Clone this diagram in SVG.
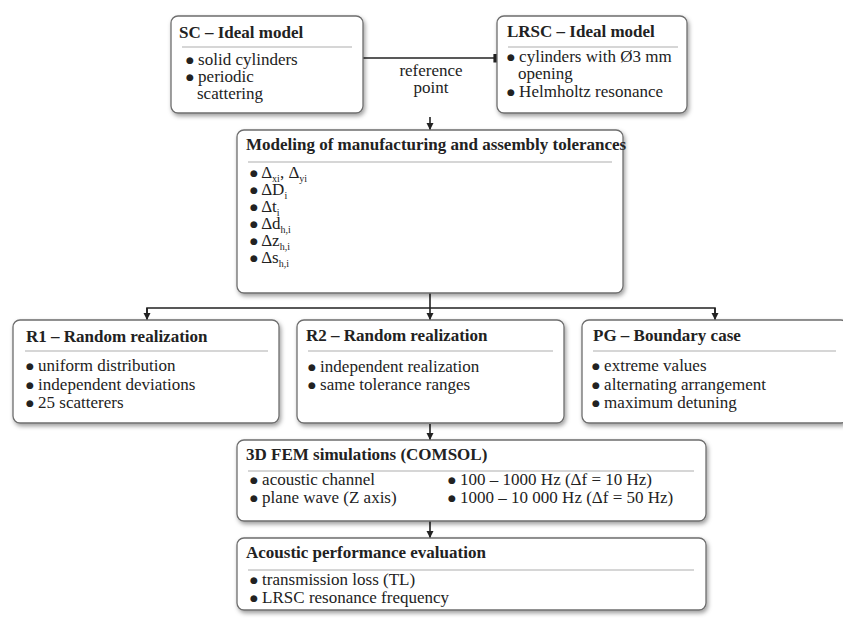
<svg xmlns="http://www.w3.org/2000/svg" width="843" height="620" viewBox="0 0 843 620">
<defs>
<filter id="sh" x="-5%" y="-5%" width="115%" height="125%">
<feDropShadow dx="1.5" dy="2.5" stdDeviation="2" flood-color="#000" flood-opacity="0.38"/>
</filter>
<marker id="ah" viewBox="0 0 10 10" refX="10" refY="5" markerWidth="7" markerHeight="8" markerUnits="userSpaceOnUse" orient="auto">
<path d="M0,0 L10,5 L0,10 z" fill="#222"/>
</marker>
<marker id="bar" viewBox="0 0 4 10" refX="4" refY="5" markerWidth="4" markerHeight="9" markerUnits="userSpaceOnUse" orient="auto">
<rect x="0" y="0" width="4" height="10" fill="#222"/>
</marker>
</defs>
<style>
.box{fill:#fff;stroke:#6e6e6e;stroke-width:1.3;filter:url(#sh)}
.sep{stroke:#c8c8c8;stroke-width:1.5}
text{font-family:"Liberation Serif","Times New Roman",serif;font-size:17px;fill:#222}
.t{font-weight:bold}
.sub{font-size:10px}
.b{font-family:"DejaVu Sans",sans-serif;font-size:9px}
.c{fill:none;stroke:#222;stroke-width:1.6}
</style>
<rect width="843" height="620" fill="#fff"/>

<g id="connectors">
<line class="c" x1="363" y1="58" x2="497" y2="58" marker-end="url(#bar)"/>
<text x="431" y="76" text-anchor="middle">reference</text>
<text x="431" y="93" text-anchor="middle">point</text>
<line class="c" x1="430" y1="117" x2="430" y2="130" marker-end="url(#ah)"/>
<line class="c" x1="430" y1="293" x2="430" y2="320" marker-end="url(#ah)"/>
<polyline class="c" points="147,314 147,308 715,308 715,314"/>
<line class="c" x1="147" y1="308" x2="147" y2="320" marker-end="url(#ah)"/>
<line class="c" x1="715" y1="308" x2="715" y2="320" marker-end="url(#ah)"/>
<line class="c" x1="430" y1="424" x2="430" y2="440" marker-end="url(#ah)"/>
<line class="c" x1="430" y1="521" x2="430" y2="538" marker-end="url(#ah)"/>
</g>

<g id="sc">
<rect class="box" x="171" y="16" width="192" height="97" rx="7"/>
<text class="t" x="179" y="38">SC – Ideal model</text>
<line class="sep" x1="182" y1="47" x2="352" y2="47"/>
<text x="186" y="65"><tspan class="b" dy="-2.5">●</tspan><tspan dy="2.5"> solid cylinders</tspan></text>
<text x="186" y="82"><tspan class="b" dy="-2.5">●</tspan><tspan dy="2.5"> periodic</tspan></text>
<text x="197" y="99">scattering</text>
</g>

<g id="lrsc">
<rect class="box" x="497" y="16" width="190" height="97" rx="7"/>
<text class="t" x="507" y="37">LRSC – Ideal model</text>
<line class="sep" x1="508" y1="47" x2="678" y2="47"/>
<text x="507" y="62"><tspan class="b" dy="-2.5">●</tspan><tspan dy="2.5"> cylinders with Ø3 mm</tspan></text>
<text x="518" y="79">opening</text>
<text x="507" y="97"><tspan class="b" dy="-2.5">●</tspan><tspan dy="2.5"> Helmholtz resonance</tspan></text>
</g>

<g id="modeling">
<rect class="box" x="237" y="130" width="386" height="163" rx="7"/>
<text class="t" x="246" y="150">Modeling of manufacturing and assembly tolerances</text>
<line class="sep" x1="248" y1="162" x2="612" y2="162"/>
<text x="250" y="178"><tspan class="b" dy="-2.5">●</tspan><tspan dy="2.5"> Δ</tspan><tspan class="sub" dy="4">xi</tspan><tspan dy="-4">, Δ</tspan><tspan class="sub" dy="4">yi</tspan></text>
<text x="250" y="195"><tspan class="b" dy="-2.5">●</tspan><tspan dy="2.5"> ΔD</tspan><tspan class="sub" dy="4">i</tspan></text>
<text x="250" y="212"><tspan class="b" dy="-2.5">●</tspan><tspan dy="2.5"> Δt</tspan><tspan class="sub" dy="4">i</tspan></text>
<text x="250" y="229"><tspan class="b" dy="-2.5">●</tspan><tspan dy="2.5"> Δd</tspan><tspan class="sub" dy="4">h,i</tspan></text>
<text x="250" y="246"><tspan class="b" dy="-2.5">●</tspan><tspan dy="2.5"> Δz</tspan><tspan class="sub" dy="4">h,i</tspan></text>
<text x="250" y="263"><tspan class="b" dy="-2.5">●</tspan><tspan dy="2.5"> Δs</tspan><tspan class="sub" dy="4">h,i</tspan></text>
</g>

<g id="r1">
<rect class="box" x="13" y="320" width="266" height="103" rx="7"/>
<text class="t" x="26" y="342">R1 – Random realization</text>
<line class="sep" x1="25" y1="351" x2="268" y2="351"/>
<text x="26" y="371"><tspan class="b" dy="-2.5">●</tspan><tspan dy="2.5"> uniform distribution</tspan></text>
<text x="26" y="390"><tspan class="b" dy="-2.5">●</tspan><tspan dy="2.5"> independent deviations</tspan></text>
<text x="26" y="408"><tspan class="b" dy="-2.5">●</tspan><tspan dy="2.5"> 25 scatterers</tspan></text>
</g>

<g id="r2">
<rect class="box" x="297" y="320" width="267" height="103" rx="7"/>
<text class="t" x="306" y="341">R2 – Random realization</text>
<line class="sep" x1="308" y1="351" x2="553" y2="351"/>
<text x="308" y="372"><tspan class="b" dy="-2.5">●</tspan><tspan dy="2.5"> independent realization</tspan></text>
<text x="308" y="390"><tspan class="b" dy="-2.5">●</tspan><tspan dy="2.5"> same tolerance ranges</tspan></text>
</g>

<g id="pg">
<rect class="box" x="582" y="320" width="266" height="103" rx="7"/>
<text class="t" x="593" y="341">PG – Boundary case</text>
<line class="sep" x1="593" y1="351" x2="836" y2="351"/>
<text x="592" y="371"><tspan class="b" dy="-2.5">●</tspan><tspan dy="2.5"> extreme values</tspan></text>
<text x="592" y="390"><tspan class="b" dy="-2.5">●</tspan><tspan dy="2.5"> alternating arrangement</tspan></text>
<text x="592" y="408"><tspan class="b" dy="-2.5">●</tspan><tspan dy="2.5"> maximum detuning</tspan></text>
</g>

<g id="fem">
<rect class="box" x="237" y="440" width="469" height="81" rx="7"/>
<text class="t" x="246" y="460">3D FEM simulations (COMSOL)</text>
<line class="sep" x1="248" y1="471" x2="694" y2="471"/>
<text x="250" y="485"><tspan class="b" dy="-2.5">●</tspan><tspan dy="2.5"> acoustic channel</tspan></text>
<text x="250" y="503"><tspan class="b" dy="-2.5">●</tspan><tspan dy="2.5"> plane wave (Z axis)</tspan></text>
<text x="448" y="485"><tspan class="b" dy="-2.5">●</tspan><tspan dy="2.5"> 100 – 1000 Hz (Δf = 10 Hz)</tspan></text>
<text x="448" y="503"><tspan class="b" dy="-2.5">●</tspan><tspan dy="2.5"> 1000 – 10 000 Hz (Δf = 50 Hz)</tspan></text>
</g>

<g id="eval">
<rect class="box" x="237" y="538" width="469" height="72" rx="7"/>
<text class="t" x="246" y="558">Acoustic performance evaluation</text>
<line class="sep" x1="248" y1="570" x2="694" y2="570"/>
<text x="250" y="585"><tspan class="b" dy="-2.5">●</tspan><tspan dy="2.5"> transmission loss (TL)</tspan></text>
<text x="250" y="603"><tspan class="b" dy="-2.5">●</tspan><tspan dy="2.5"> LRSC resonance frequency</tspan></text>
</g>
</svg>
